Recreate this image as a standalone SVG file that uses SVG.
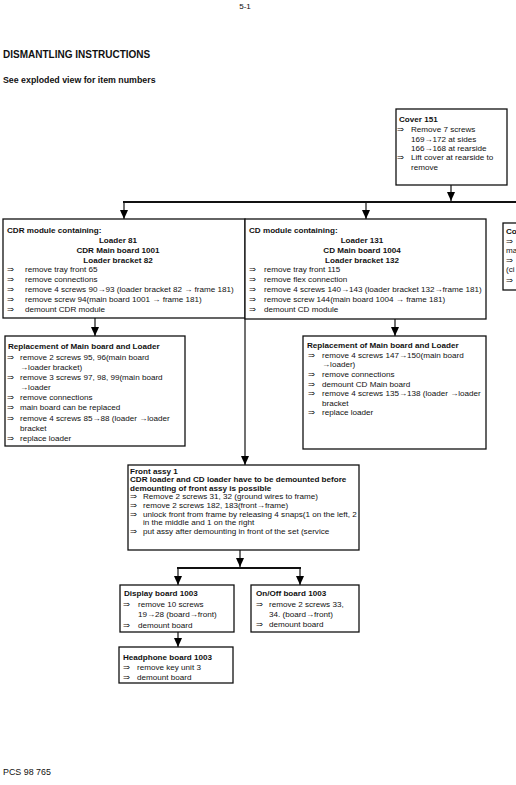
<svg xmlns="http://www.w3.org/2000/svg" width="516" height="785" viewBox="0 0 516 785">
<defs>
<marker id="ah" markerUnits="userSpaceOnUse" markerWidth="9" markerHeight="8" viewBox="0 0 9 8" refX="9" refY="4" orient="auto">
<path d="M0,0 L9,4 L0,8 Z" fill="#000"/>
</marker>
<style>
text{font-family:"Liberation Sans",Arial,"DejaVu Sans",sans-serif;font-size:8.1px;fill:#111}
.b{font-weight:bold}
.c{text-anchor:middle}
.box{fill:#fff;stroke:#111;stroke-width:1.3}
.ln{fill:none;stroke:#111;stroke-width:1.2}
.thick{fill:none;stroke:#111;stroke-width:2}
.ar{font-family:"DejaVu Sans",sans-serif;font-size:8.3px}
</style>
</defs>
<rect width="516" height="785" fill="#fff"/>
<text x="245" y="9" class="c">5-1</text>
<text x="3" y="58" class="b" style="font-size:10px">DISMANTLING INSTRUCTIONS</text>
<text x="3" y="83" class="b" style="font-size:8.8px">See exploded view for item numbers</text>
<text x="3" y="775" style="font-size:8.9px">PCS 98 765</text>

<g id="connectors">
<line class="ln" x1="451" y1="185" x2="451" y2="201" marker-end="url(#ah)"/>
<line class="thick" x1="123" y1="202" x2="516" y2="202"/>
<line class="ln" x1="124" y1="202" x2="124" y2="219" marker-end="url(#ah)"/>
<line class="ln" x1="366" y1="202" x2="366" y2="219" marker-end="url(#ah)"/>
<line class="ln" x1="95" y1="318" x2="95" y2="336" marker-end="url(#ah)"/>
<line class="ln" x1="395" y1="319" x2="395" y2="336" marker-end="url(#ah)"/>
<line class="ln" x1="245" y1="318" x2="245" y2="465" marker-end="url(#ah)"/>
<line class="ln" x1="240" y1="550" x2="240" y2="567" marker-end="url(#ah)"/>
<line class="thick" x1="177" y1="568" x2="301" y2="568"/>
<line class="ln" x1="178" y1="568" x2="178" y2="585" marker-end="url(#ah)"/>
<line class="ln" x1="300" y1="568" x2="300" y2="585" marker-end="url(#ah)"/>
<line class="ln" x1="178" y1="632" x2="178" y2="647" marker-end="url(#ah)"/>
</g>

<g id="cover">
<rect class="box" x="396" y="109" width="111" height="76"/>
<text x="399" y="122" class="b">Cover 151</text>
<text x="397" y="132" class="ar">⇒</text><text x="411" y="132">Remove 7 screws</text>
<text x="411" y="141.5">169→172 at sides</text>
<text x="411" y="150.5">166→168 at rearside</text>
<text x="397" y="160" class="ar">⇒</text><text x="411" y="160">Lift cover at rearside to</text>
<text x="411" y="169.5">remove</text>
</g>

<g id="cdr-module">
<rect class="box" x="3" y="219" width="242" height="99"/>
<text x="7" y="233" class="b">CDR module containing:</text>
<text x="118" y="243" class="b c">Loader 81</text>
<text x="118" y="253" class="b c">CDR Main board 1001</text>
<text x="118" y="262.5" class="b c">Loader bracket 82</text>
<text x="7" y="272" class="ar">⇒</text><text x="25" y="272">remove tray front 65</text>
<text x="7" y="282" class="ar">⇒</text><text x="25" y="282">remove connections</text>
<text x="7" y="291.5" class="ar">⇒</text><text x="25" y="291.5">remove 4 screws 90→93 (loader bracket 82 → frame 181)</text>
<text x="7" y="301.5" class="ar">⇒</text><text x="25" y="301.5">remove screw 94(main board 1001 → frame 181)</text>
<text x="7" y="312" class="ar">⇒</text><text x="25" y="312">demount CDR module</text>
</g>

<g id="cd-module">
<rect class="box" x="245" y="219" width="241" height="100"/>
<text x="249" y="233" class="b">CD module containing:</text>
<text x="362" y="243" class="b c">Loader 131</text>
<text x="362" y="253" class="b c">CD Main board 1004</text>
<text x="362" y="262.5" class="b c">Loader bracket 132</text>
<text x="249" y="272" class="ar">⇒</text><text x="264" y="272">remove tray front 115</text>
<text x="249" y="282" class="ar">⇒</text><text x="264" y="282">remove flex connection</text>
<text x="249" y="291.5" class="ar">⇒</text><text x="264" y="291.5">remove 4 screws 140→143 (loader bracket 132→frame 181)</text>
<text x="249" y="301.5" class="ar">⇒</text><text x="264" y="301.5">remove screw 144(main board 1004 → frame 181)</text>
<text x="249" y="312" class="ar">⇒</text><text x="264" y="312">demount CD module</text>
</g>

<g id="partial-box">
<rect class="box" x="503" y="223" width="20" height="67"/>
<text x="506" y="234" class="b">Co</text>
<text x="506" y="244" class="ar">⇒</text>
<text x="506" y="252.5">ma</text>
<text x="506" y="263" class="ar">⇒</text>
<text x="506" y="272">(ci</text>
<text x="506" y="283" class="ar">⇒</text>
</g>

<g id="cdr-replacement">
<rect class="box" x="5" y="336" width="180" height="110"/>
<text x="8" y="348.5" class="b">Replacement of Main board and Loader</text>
<text x="7" y="360" class="ar">⇒</text><text x="20" y="360">remove 2 screws  95, 96(main board</text>
<text x="20" y="370">→loader bracket)</text>
<text x="7" y="380" class="ar">⇒</text><text x="20" y="380">remove 3 screws 97, 98, 99(main board</text>
<text x="20" y="390">→loader</text>
<text x="7" y="400" class="ar">⇒</text><text x="20" y="400">remove connections</text>
<text x="7" y="410" class="ar">⇒</text><text x="20" y="410">main board can be replaced</text>
<text x="7" y="420.5" class="ar">⇒</text><text x="20" y="420.5">remove 4 screws 85→88 (loader →loader</text>
<text x="20" y="431">bracket</text>
<text x="7" y="441" class="ar">⇒</text><text x="20" y="441">replace loader</text>
</g>

<g id="cd-replacement">
<rect class="box" x="303" y="336" width="183" height="113"/>
<text x="307" y="347.5" class="b">Replacement of Main board and Loader</text>
<text x="308" y="357.5" class="ar">⇒</text><text x="322" y="357.5">remove 4 screws 147→150(main board</text>
<text x="322" y="367">→loader)</text>
<text x="308" y="377" class="ar">⇒</text><text x="322" y="377">remove connections</text>
<text x="308" y="386.5" class="ar">⇒</text><text x="322" y="386.5">demount CD Main board</text>
<text x="308" y="396" class="ar">⇒</text><text x="322" y="396">remove 4 screws 135→138 (loader →loader</text>
<text x="322" y="405.5">bracket</text>
<text x="308" y="415" class="ar">⇒</text><text x="322" y="415">replace loader</text>
</g>

<g id="front-assy">
<rect class="box" x="128" y="465" width="231" height="85"/>
<text x="130" y="473.5" class="b">Front assy 1</text>
<text x="130" y="482" class="b">CDR loader and CD loader have to be demounted before</text>
<text x="130" y="490.5" class="b">demounting of front assy is possible</text>
<text x="130" y="499" class="ar">⇒</text><text x="143" y="499">Remove 2 screws 31, 32 (ground wires to frame)</text>
<text x="130" y="507.5" class="ar">⇒</text><text x="143" y="507.5">remove 2 screws 182, 183(front→frame)</text>
<text x="130" y="516.5" class="ar">⇒</text><text x="143" y="516.5">unlock front from frame by releasing 4 snaps(1 on the left, 2</text>
<text x="143" y="525">in the middle and 1 on the right</text>
<text x="130" y="534" class="ar">⇒</text><text x="143" y="534">put assy after demounting in front of the set (service</text>
</g>

<g id="display-board">
<rect class="box" x="120" y="585" width="114" height="47"/>
<text x="124" y="596" class="b">Display board 1003</text>
<text x="123" y="607" class="ar">⇒</text><text x="138" y="607">remove 10 screws</text>
<text x="138" y="617">19→28 (board→front)</text>
<text x="123" y="627.5" class="ar">⇒</text><text x="138" y="627.5">demount board</text>
</g>

<g id="onoff-board">
<rect class="box" x="251" y="585" width="108" height="47"/>
<text x="256" y="596" class="b">On/Off board 1003</text>
<text x="256" y="607" class="ar">⇒</text><text x="269" y="607">remove 2 screws 33,</text>
<text x="269" y="616.5">34. (board→front)</text>
<text x="256" y="626.5" class="ar">⇒</text><text x="269" y="626.5">demount board</text>
</g>

<g id="headphone-board">
<rect class="box" x="119" y="647" width="114" height="36"/>
<text x="123" y="660" class="b">Headphone board 1003</text>
<text x="123" y="670" class="ar">⇒</text><text x="137" y="670">remove key unit 3</text>
<text x="123" y="680" class="ar">⇒</text><text x="137" y="680">demount board</text>
</g>
</svg>
